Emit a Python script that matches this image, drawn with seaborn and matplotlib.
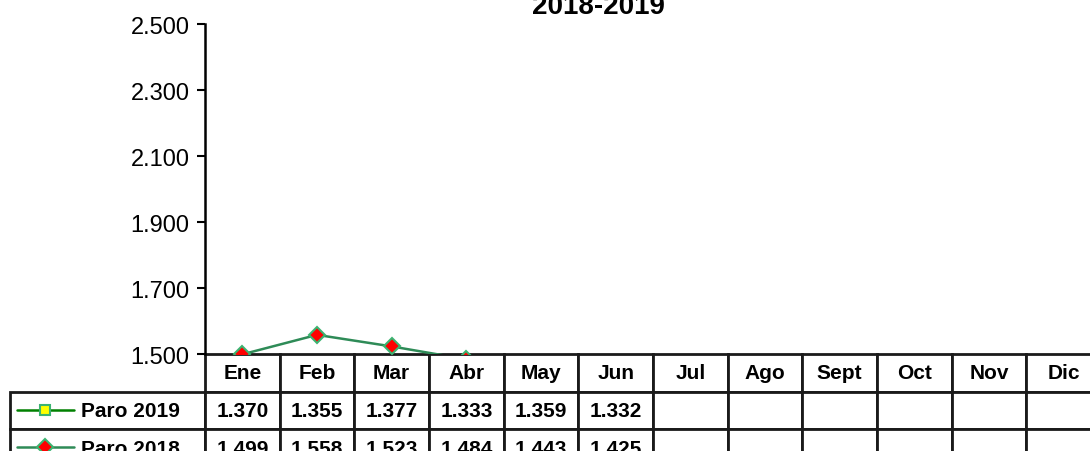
import pandas as pd
import matplotlib.pyplot as plt
import seaborn as sns
from matplotlib.lines import Line2D
from matplotlib.ticker import FormatStrFormatter

# data (thousands of people, Spanish decimal-dot notation)
months = ["Ene", "Feb", "Mar", "Abr", "May", "Jun",
          "Jul", "Ago", "Sept", "Oct", "Nov", "Dic"]
paro_2019 = [1.370, 1.355, 1.377, 1.333, 1.359, 1.332]
paro_2018 = [1.499, 1.558, 1.523, 1.484, 1.443, 1.425]
series_names = ["Paro 2019", "Paro 2018"]
title = "2018-2019"
y_ticks = [1.5, 1.7, 1.9, 2.1, 2.3, 2.5]

c19_line, c19_face, c19_edge = "#008000", "#ffff00", "#3cb371"
c18_line, c18_face, c18_edge = "#2e8b57", "#ff0000", "#3cb371"

sns.set_theme(style="ticks")
plt.rcParams["font.family"] = ["Liberation Sans", "DejaVu Sans"]
plt.rcParams["axes.edgecolor"] = "black"
plt.rcParams["ytick.color"] = "black"
plt.rcParams["text.color"] = "black"

W, H = 1090, 452
fig = plt.figure(figsize=(W / 100, H / 100), dpi=100)
ax_l, ax_r, ax_t, ax_b = 205, 1101, 25, 355
ax = fig.add_axes([ax_l / W, 1 - ax_b / H, (ax_r - ax_l) / W, (ax_b - ax_t) / H])

df19 = pd.DataFrame({"mes": months[:len(paro_2019)], "valor": paro_2019})
df18 = pd.DataFrame({"mes": months[:len(paro_2018)], "valor": paro_2018})

sns.lineplot(data=df19, x="mes", y="valor", ax=ax, color=c19_line, lw=1.8,
             marker="s", markersize=7, markerfacecolor=c19_face,
             markeredgecolor=c19_edge, markeredgewidth=1.5)
sns.lineplot(data=df18, x="mes", y="valor", ax=ax, color=c18_line, lw=1.8,
             marker="D", markersize=8, markerfacecolor=c18_face,
             markeredgecolor=c18_edge, markeredgewidth=1.5)

ax.set_xlim(-0.5, len(months) - 0.5)
ax.set_ylim(1.5, 2.5)
ax.set_yticks(y_ticks)
ax.yaxis.set_major_formatter(FormatStrFormatter("%.3f"))
ax.tick_params(axis="y", labelsize=17, labelcolor="black",
               length=6, width=1.5, pad=5)
ax.set_xticks([])
ax.set_xlabel("")
ax.set_ylabel("")
for s in ["top", "right", "bottom"]:
    ax.spines[s].set_visible(False)
ax.spines["left"].set_linewidth(1.8)

# data table under the plot (first column holds the series names)
def fmt_row(name, vals):
    return [name] + [f"{v:.3f}" for v in vals] + [""] * (len(months) - len(vals))

cell_w = (ax_r - ax_l) / len(months)
lab_w = ax_l - 10
tab_h = 113
ax_w_px, ax_h_px = ax_r - ax_l, ax_b - ax_t
tbl = ax.table(cellText=[fmt_row(series_names[0], paro_2019),
                         fmt_row(series_names[1], paro_2018)],
               colLabels=[""] + months,
               colWidths=[lab_w / cell_w] + [1] * len(months),
               cellLoc="center",
               bbox=[-lab_w / ax_w_px, -tab_h / ax_h_px,
                     (ax_r - 10) / ax_w_px, tab_h / ax_h_px])
tbl.set_clip_on(False)
tbl.auto_set_font_size(False)
tbl.set_fontsize(15)
for (r, c), cell in tbl.get_celld().items():
    cell.set_clip_on(False)
    cell.get_text().set_clip_on(False)
    cell.set_linewidth(2)
    cell.get_text().set_fontweight("bold")
    if c == 0:
        if r == 0:
            cell.visible_edges = ""
        else:
            cell.get_text().set_horizontalalignment("left")
            cell._loc = "left"
            cell.PAD = 71 / lab_w

# legend keys inside the row label cells
row_y = [411, 448]
keys = [(c19_line, "s", 7, c19_face, c19_edge),
        (c18_line, "D", 8, c18_face, c18_edge)]
for y, (lc, mk, ms, fc, ec) in zip(row_y, keys):
    fy = 1 - y / H
    fig.add_artist(Line2D([17 / W, 74 / W], [fy, fy], color=lc, lw=1.8,
                          transform=fig.transFigure, zorder=5))
    fig.add_artist(Line2D([45 / W], [fy], marker=mk, markersize=ms,
                          markerfacecolor=fc, markeredgecolor=ec,
                          markeredgewidth=1.5, transform=fig.transFigure,
                          zorder=6))

fig.text(598 / W, 1 - 14.5 / H, title, ha="center", va="baseline",
         fontsize=20, fontweight="bold")

fig.savefig("out.png", dpi=100)
